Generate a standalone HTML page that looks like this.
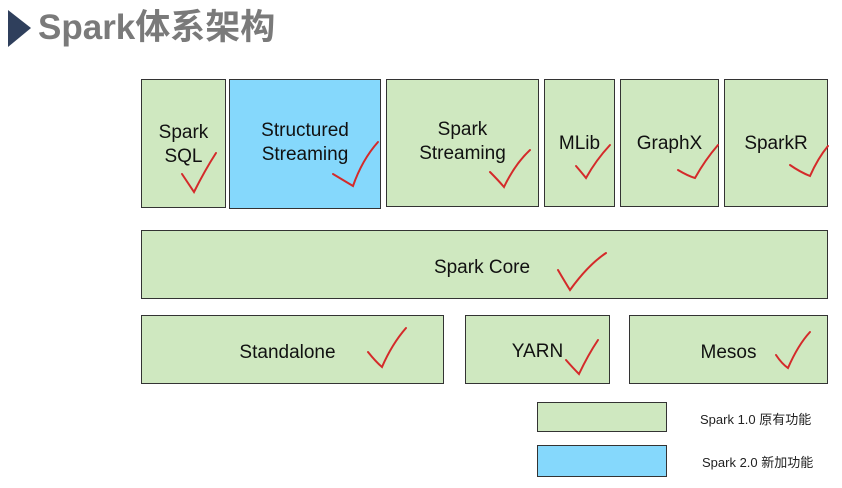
<!DOCTYPE html>
<html><head><meta charset="utf-8"><style>
body{margin:0;width:842px;height:488px;background:#fff;position:relative;overflow:hidden;font-family:"Liberation Sans","Noto Sans CJK SC",sans-serif}
.b{position:absolute;box-sizing:border-box;border:1.5px solid #333;background:#cfe8c0;display:flex;align-items:center;justify-content:center;text-align:center;font-size:19px;color:#111;line-height:24px}
.bl{background:#85d8fc}
.t{position:absolute;font-size:13px;color:#222}
</style></head><body>
<svg style="position:absolute;left:0;top:0" width="842" height="488">
<polygon points="8,10 8,47 31,28" fill="#2f3f5c"/>
</svg>
<div style="position:absolute;left:38px;top:6px;font-size:35px;font-weight:bold;color:#7a7a7a;line-height:44px">Spark体系架构</div>
<div class="b" style="left:141px;top:79px;width:85px;height:129px;padding-top:2px">Spark<br>SQL</div>
<div class="b bl" style="left:229px;top:79px;width:152px;height:130px;padding-bottom:2px">Structured<br>Streaming</div>
<div class="b" style="left:386px;top:79px;width:153px;height:128px;padding-bottom:2px">Spark<br>Streaming</div>
<div class="b" style="left:544px;top:79px;width:71px;height:128px;padding-top:2px">MLib</div>
<div class="b" style="left:620px;top:79px;width:99px;height:128px;padding-top:2px">GraphX</div>
<div class="b" style="left:724px;top:79px;width:104px;height:128px;padding-top:2px">SparkR</div>
<div class="b" style="left:141px;top:230px;width:687px;height:69px;padding-right:5px;padding-top:6px">Spark Core</div>
<div class="b" style="left:141px;top:315px;width:303px;height:69px;padding-right:10px;padding-top:6px">Standalone</div>
<div class="b" style="left:465px;top:315px;width:145px;height:69px;padding-top:4px">YARN</div>
<div class="b" style="left:629px;top:315px;width:199px;height:69px;padding-top:6px">Mesos</div>
<div class="b" style="left:537px;top:402px;width:130px;height:30px"></div>
<div class="b bl" style="left:537px;top:445px;width:130px;height:32px"></div>
<div class="t" style="left:700px;top:409px">Spark 1.0 原有功能</div>
<div class="t" style="left:702px;top:452px">Spark 2.0 新加功能</div>
<svg style="position:absolute;left:0;top:0" width="842" height="488" fill="none" stroke="#d42a2a" stroke-width="2" stroke-linecap="round">
<path d="M182,174 Q188,183 194,192 Q205,170 216,153"/>
<path d="M333,174 Q343,180 353,186 Q362,160 378,142"/>
<path d="M490,172 Q498,180 504,187 Q515,164 530,150"/>
<path d="M576,166 Q582,173 586,178 Q596,160 610,145"/>
<path d="M678,170 Q688,176 695,178 Q705,160 718,145"/>
<path d="M790,165 Q800,172 810,176 Q818,158 828,146"/>
<path d="M558,270 Q565,282 570,290 Q588,265 606,253"/>
<path d="M368,352 Q376,362 382,367 Q392,344 406,328"/>
<path d="M566,360 Q573,368 579,374 Q588,355 598,340"/>
<path d="M776,355 Q782,364 788,368 Q798,345 810,332"/>
</svg>
</body></html>
